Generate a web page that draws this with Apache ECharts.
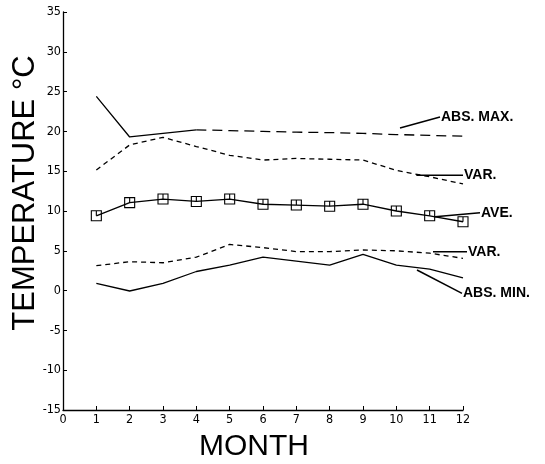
<!DOCTYPE html>
<html>
<head>
<meta charset="utf-8">
<script src="https://cdn.jsdelivr.net/npm/echarts@6/dist/echarts.min.js"></script>
<style>html,body{margin:0;padding:0;background:#fff}#c{width:545px;height:464px}</style>
</head>
<body>
<div id="c"></div>
<script>
const months = [1, 2, 3, 4, 5, 6, 7, 8, 9, 10, 11, 12];
const absMax = [24.4, 19.3, 19.75, 20.2, 20.1, 20.0, 19.9, 19.85, 19.75, 19.6, 19.5, 19.4];
const varUpper = [15.15, 18.3, 19.25, 18.1, 17.0, 16.4, 16.6, 16.5, 16.4, 15.1, 14.3, 13.4];
const ave = [9.4, 11.05, 11.5, 11.2, 11.5, 10.85, 10.75, 10.6, 10.85, 10.0, 9.4, 8.65];
const varLower = [3.13, 3.63, 3.5, 4.2, 5.8, 5.4, 4.9, 4.9, 5.1, 5.0, 4.7, 4.05];
const absMin = [0.9, -0.05, 0.9, 2.4, 3.2, 4.2, 3.7, 3.2, 4.55, 3.2, 2.7, 1.6];
const yTicks = [-15, -10, -5, 0, 5, 10, 15, 20, 25, 30, 35];
const xTicks = [0, 1, 2, 3, 4, 5, 6, 7, 8, 9, 10, 11, 12];

// leader lines for series labels (data coordinates: month, temperature)
const labelNames = ['ABS. MAX.', 'VAR.', 'AVE.', 'VAR.', 'ABS. MIN.'];
const leaderFrom = [[10.11, 20.43], [10.6, 14.5], [11.16, 9.28], [11.1, 4.89], [10.62, 2.59]];
const leaderTo = [[11.31, 21.8], [12.0, 14.5], [12.51, 9.79], [12.12, 4.89], [11.97, -0.34]];

const pairs = (vals, from, to) => months.map((m, i) => [m, vals[i]]).slice(from, to);

const chart = echarts.init(document.getElementById('c'), null, {renderer: 'canvas'});
const lineW = 1.3;
const tickFont = {color: '#000', fontFamily: 'DejaVu Sans Condensed', fontSize: 12.5};

const option = {
  backgroundColor: '#fff',
  animation: false,
  grid: {left: 63, right: 82, top: 12, bottom: 54, containLabel: false},
  xAxis: {
    type: 'value', min: 0, max: 12, interval: 1,
    axisLine: {onZero: false, lineStyle: {color: '#000', width: 1.3}},
    axisTick: {inside: true, length: 4, lineStyle: {color: '#000', width: 1}},
    axisLabel: Object.assign({margin: 3}, tickFont),
    splitLine: {show: false}
  },
  yAxis: {
    type: 'value', min: -15, max: 35, interval: 5,
    axisLine: {show: true, onZero: false, lineStyle: {color: '#000', width: 1.3}},
    axisTick: {show: true, inside: true, length: 4, lineStyle: {color: '#000', width: 1}},
    axisLabel: Object.assign({margin: 2}, tickFont),
    splitLine: {show: false}
  },
  series: [
    {type: 'line', data: pairs(absMax, 0, 4), symbol: 'none', lineStyle: {color: '#000', width: lineW}},
    {type: 'line', data: pairs(absMax, 3, 12), symbol: 'none', lineStyle: {color: '#000', width: lineW, type: [10, 6]}},
    {type: 'line', data: pairs(varUpper, 0, 12), symbol: 'none', lineStyle: {color: '#000', width: lineW, type: [5, 4]}},
    {type: 'line', data: pairs(ave, 0, 12), symbol: 'path://M0,0 L10,0 L10,10 L0,10 Z M5,0 L5,5',
      symbolSize: 10, itemStyle: {color: 'rgba(0,0,0,0)', borderColor: '#000', borderWidth: 1.1},
      lineStyle: {color: '#000', width: lineW}},
    {type: 'line', data: pairs(varLower, 0, 12), symbol: 'none', lineStyle: {color: '#000', width: lineW, type: [5, 4]}},
    {type: 'line', data: pairs(absMin, 0, 12), symbol: 'none', lineStyle: {color: '#000', width: lineW}}
  ]
};
chart.setOption(option);

const graphics = [
  {type: 'text', x: 25, y: 193, rotation: Math.PI / 2,
    style: {text: 'TEMPERATURE °C', font: '31px "Liberation Sans"', fill: '#000', align: 'center', verticalAlign: 'middle'}},
  {type: 'text', x: 254, y: 447,
    style: {text: 'MONTH', font: '30px "Liberation Sans"', fill: '#000', align: 'center', verticalAlign: 'middle'}}
];
labelNames.forEach((name, i) => {
  const a = chart.convertToPixel({gridIndex: 0}, leaderFrom[i]);
  const p = chart.convertToPixel({gridIndex: 0}, leaderTo[i]);
  graphics.push({type: 'line', shape: {x1: a[0], y1: a[1], x2: p[0], y2: p[1]},
    style: {stroke: '#000', lineWidth: 1.5}});
  graphics.push({type: 'text', x: p[0] + 1, y: p[1],
    style: {text: name, font: 'bold 14px "Liberation Sans"', fill: '#000', align: 'left', verticalAlign: 'middle'}});
});
chart.setOption({graphic: graphics});
</script>
</body>
</html>
